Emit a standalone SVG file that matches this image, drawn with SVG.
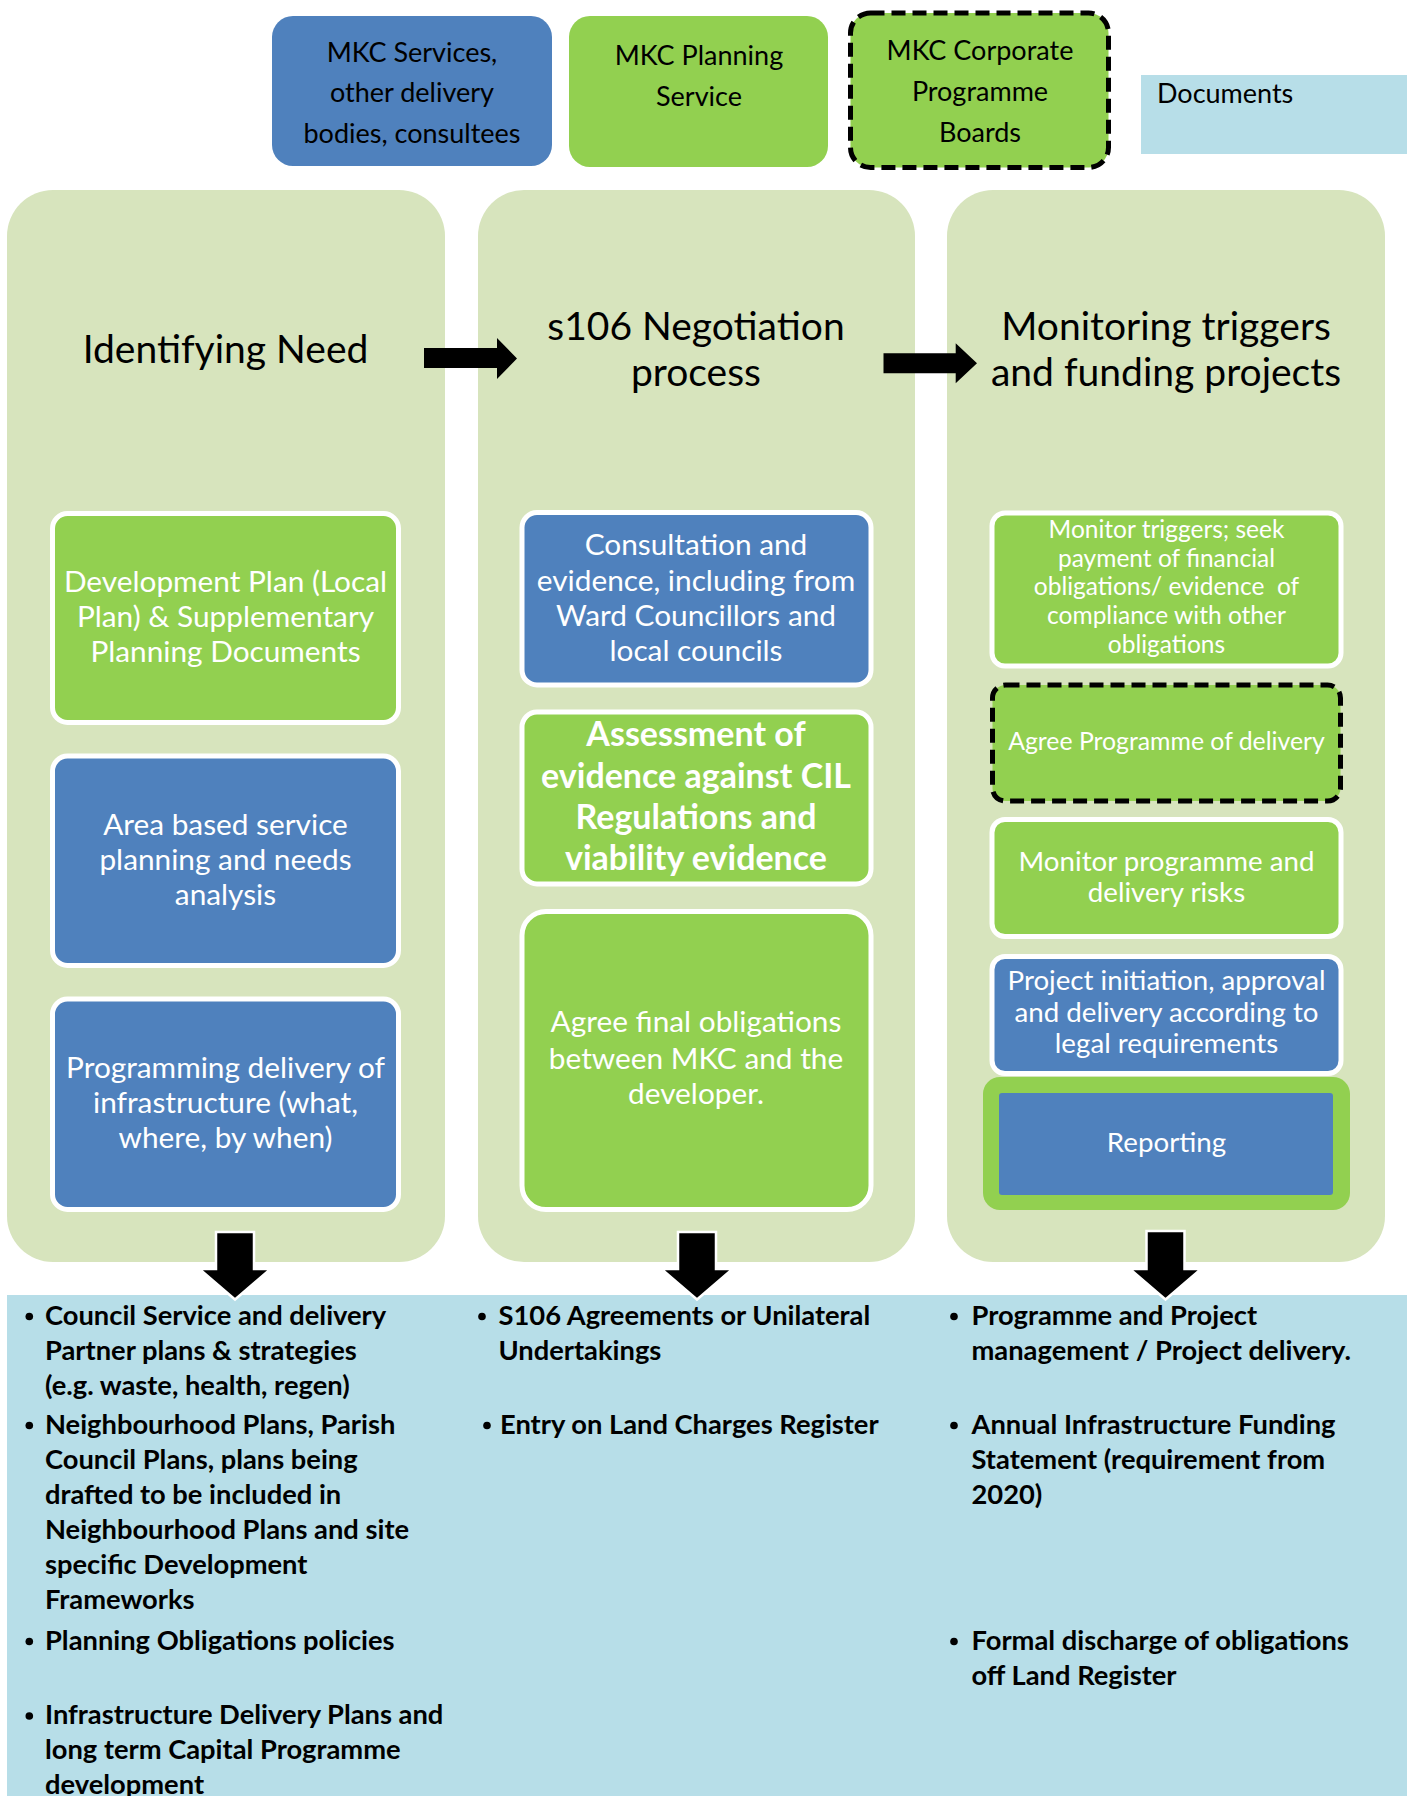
<svg xmlns="http://www.w3.org/2000/svg" width="1414" height="1796" viewBox="0 0 1414 1796">
<style>
text{font-family:Lato,"Noto Sans","Liberation Sans",sans-serif}
.col{fill:#D7E4BD}
.blue{fill:#4F81BD}
.green{fill:#92D050}
.wb{stroke:#FFFFFF;stroke-width:5}
.dash{stroke:#000000;stroke-width:5;stroke-dasharray:14 7}
.title{font-size:39px;fill:#000;text-anchor:middle}
.leg{font-size:27px;fill:#000;text-anchor:middle}
.bt{font-size:29.8px;fill:#fff;text-anchor:middle}
.bb{font-size:34px;fill:#fff;text-anchor:middle;font-weight:bold}
.bs{font-size:24.5px;fill:#fff;text-anchor:middle}
.bm{font-size:27.7px;fill:#fff;text-anchor:middle}
.ba{font-size:24.8px;fill:#fff;text-anchor:middle}
.doc{font-size:27.3px;fill:#000;font-weight:bold}
.arr{fill:#000}
.darr{fill:#000;stroke:#fff;stroke-width:2.5;stroke-linejoin:miter}
</style>
<rect width="1414" height="1796" fill="#FFFFFF"/>

<g id="legend-services">
<rect x="272" y="16" width="280" height="150" rx="21" class="blue"/>
<text class="leg" x="412" y="61.5">MKC Services,</text>
<text class="leg" x="412" y="102">other delivery</text>
<text class="leg" x="412" y="142.5">bodies, consultees</text>
</g>
<g id="legend-planning">
<rect x="569" y="16" width="259" height="151" rx="21" class="green"/>
<text class="leg" x="699" y="65">MKC Planning</text>
<text class="leg" x="699" y="105.5">Service</text>
</g>
<g id="legend-boards">
<rect x="850.5" y="13" width="258" height="154.5" rx="20" class="green dash"/>
<text class="leg" x="980" y="60">MKC Corporate</text>
<text class="leg" x="980" y="100.5">Programme</text>
<text class="leg" x="980" y="141.5">Boards</text>
</g>
<g id="legend-documents">
<rect x="1141" y="75" width="266" height="79" fill="#B7DEE8"/>
<text class="leg" x="1157" y="103" style="text-anchor:start">Documents</text>
</g>

<g id="col-identifying">
<rect x="7" y="190" width="438" height="1072" rx="46" class="col"/>
<text class="title" x="225.5" y="363">Identifying Need</text>
</g>
<g id="col-negotiation">
<rect x="478" y="190" width="437" height="1072" rx="46" class="col"/>
<text class="title" x="696" y="340">s106 Negotiation</text>
<text class="title" x="696" y="385.5">process</text>
</g>
<g id="col-monitoring">
<rect x="947" y="190" width="438" height="1072" rx="46" class="col"/>
<text class="title" x="1166" y="340">Monitoring triggers</text>
<text class="title" x="1166" y="385.5">and funding projects</text>
</g>

<g id="documents-panel">
<rect x="7" y="1295" width="1400" height="501" fill="#B7DEE8"/>
</g>

<g id="n-devplan">
<rect x="52.5" y="513.5" width="346" height="209" rx="15" class="green wb"/>
<text class="bt" x="225.5" y="592">Development Plan (Local</text>
<text class="bt" x="225.5" y="627">Plan) &amp; Supplementary</text>
<text class="bt" x="225.5" y="662">Planning Documents</text>
</g>
<g id="n-area">
<rect x="52.5" y="756" width="346" height="209.5" rx="15" class="blue wb"/>
<text class="bt" x="225.5" y="835">Area based service</text>
<text class="bt" x="225.5" y="870">planning and needs</text>
<text class="bt" x="225.5" y="904.5">analysis</text>
</g>
<g id="n-programming">
<rect x="52.5" y="999" width="346" height="210.5" rx="15" class="blue wb"/>
<text class="bt" x="225.5" y="1078">Programming delivery of</text>
<text class="bt" x="225.5" y="1113">infrastructure (what,</text>
<text class="bt" x="225.5" y="1148">where, by when)</text>
</g>

<g id="n-consultation">
<rect x="522" y="512.5" width="349" height="172.5" rx="15" class="blue wb"/>
<text class="bt" x="696" y="554.5">Consultation and</text>
<text class="bt" x="696" y="590.5">evidence, including from</text>
<text class="bt" x="696" y="626">Ward Councillors and</text>
<text class="bt" x="696" y="661">local councils</text>
</g>
<g id="n-assessment">
<rect x="522" y="712" width="349" height="172" rx="15" class="green wb"/>
<text class="bb" x="696" y="746">Assessment of</text>
<text class="bb" x="696" y="787.5">evidence against CIL</text>
<text class="bb" x="696" y="828.5">Regulations and</text>
<text class="bb" x="696" y="869.5">viability evidence</text>
</g>
<g id="n-agree-final">
<rect x="522" y="911.5" width="349" height="298" rx="24" class="green wb"/>
<text class="bt" x="696" y="1032">Agree final obligations</text>
<text class="bt" x="696" y="1068.5">between MKC and the</text>
<text class="bt" x="696" y="1103.5">developer.</text>
</g>

<g id="n-monitor-triggers">
<rect x="992" y="513" width="349" height="153" rx="13" class="green wb"/>
<text class="bs" x="1166.5" y="537.5">Monitor triggers; seek</text>
<text class="bs" x="1166.5" y="566.5">payment of financial</text>
<text class="bs" x="1166.5" y="595" xml:space="preserve">obligations/ evidence  of</text>
<text class="bs" x="1166.5" y="624">compliance with other</text>
<text class="bs" x="1166.5" y="653">obligations</text>
</g>
<g id="n-agree-programme">
<rect x="992.5" y="685" width="348" height="116" rx="13" class="green dash"/>
<text class="ba" x="1166.5" y="750">Agree Programme of delivery</text>
</g>
<g id="n-monitor-programme">
<rect x="992" y="819.5" width="349" height="117" rx="13" class="green wb"/>
<text class="bm" x="1166.5" y="870.5">Monitor programme and</text>
<text class="bm" x="1166.5" y="902">delivery risks</text>
</g>
<g id="n-project">
<rect x="992" y="956.5" width="349" height="117" rx="13" class="blue wb"/>
<text class="bm" x="1166.5" y="990">Project initiation, approval</text>
<text class="bm" x="1166.5" y="1021.5">and delivery according to</text>
<text class="bm" x="1166.5" y="1053">legal requirements</text>
</g>
<g id="n-reporting">
<rect x="983" y="1077" width="367" height="133" rx="17" class="green"/>
<rect x="999" y="1093" width="334" height="102" rx="3" class="blue"/>
<text class="bm" x="1166.5" y="1152">Reporting</text>
</g>

<g id="connectors">
<polygon class="arr" points="424,348 497,348 497,338 517,358.5 497,379 497,368 424,368"/>
<polygon class="arr" points="883.5,353.3 955.7,353.3 955.7,343.3 977,363.3 955.7,383.3 955.7,373.3 883.5,373.3"/>
<polygon class="darr" points="216,1232 254,1232 254,1269 270.5,1269 235,1299.5 199.5,1269 216,1269"/>
<polygon class="darr" points="678,1232 716,1232 716,1269 732.5,1269 697,1299.5 661.5,1269 678,1269"/>
<polygon class="darr" points="1146.5,1231 1184.5,1231 1184.5,1269 1201,1269 1165.5,1299.5 1130,1269 1146.5,1269"/>
</g>

<g id="doc-list-1">
<circle cx="29.3" cy="1316.5" r="3.8"/>
<text class="doc" x="45" y="1324.5">Council Service and delivery</text>
<text class="doc" x="45" y="1359.5">Partner plans &amp; strategies</text>
<text class="doc" x="45" y="1394.5">(e.g. waste, health, regen)</text>
<circle cx="29.3" cy="1425.5" r="3.8"/>
<text class="doc" x="45" y="1433.5">Neighbourhood Plans, Parish</text>
<text class="doc" x="45" y="1468.5">Council Plans, plans being</text>
<text class="doc" x="45" y="1503.5">drafted to be included in</text>
<text class="doc" x="45" y="1539">Neighbourhood Plans and site</text>
<text class="doc" x="45" y="1574">specific Development</text>
<text class="doc" x="45" y="1609">Frameworks</text>
<circle cx="29.3" cy="1641.5" r="3.8"/>
<text class="doc" x="45" y="1649.5">Planning Obligations policies</text>
<circle cx="29.3" cy="1716" r="3.8"/>
<text class="doc" x="45" y="1724">Infrastructure Delivery Plans and</text>
<text class="doc" x="45" y="1759">long term Capital Programme</text>
<text class="doc" x="45" y="1793.5">development</text>
</g>
<g id="doc-list-2">
<circle cx="482" cy="1316.5" r="3.8"/>
<text class="doc" x="498.5" y="1324.5">S106 Agreements or Unilateral</text>
<text class="doc" x="498.5" y="1359.5">Undertakings</text>
<circle cx="487" cy="1425.5" r="3.8"/>
<text class="doc" x="500" y="1433.5">Entry on Land Charges Register</text>
</g>
<g id="doc-list-3">
<circle cx="954" cy="1316.5" r="3.8"/>
<text class="doc" x="971.5" y="1324.5">Programme and Project</text>
<text class="doc" x="971.5" y="1359.5">management / Project delivery.</text>
<circle cx="954" cy="1425.5" r="3.8"/>
<text class="doc" x="971.5" y="1433.5">Annual Infrastructure Funding</text>
<text class="doc" x="971.5" y="1468.5">Statement (requirement from</text>
<text class="doc" x="971.5" y="1503.5">2020)</text>
<circle cx="954" cy="1641.5" r="3.8"/>
<text class="doc" x="971.5" y="1649.5">Formal discharge of obligations</text>
<text class="doc" x="971.5" y="1684.5">off Land Register</text>
</g>
</svg>
